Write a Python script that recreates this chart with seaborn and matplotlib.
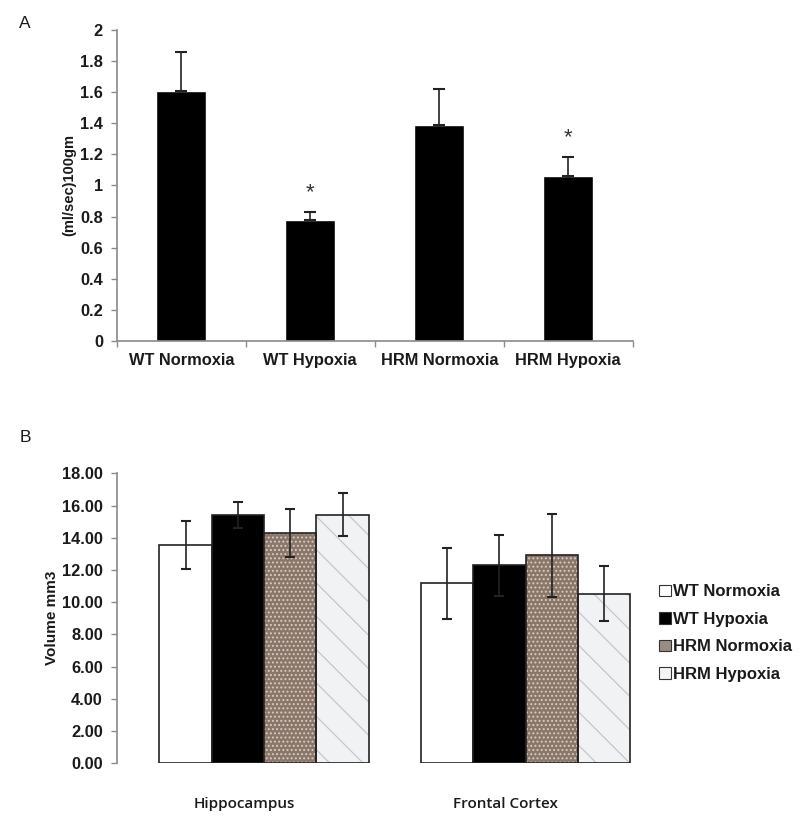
import numpy as np
import pandas as pd
import seaborn as sns
from matplotlib import pyplot as plt
from matplotlib import transforms
from matplotlib.patches import Patch, Rectangle

# panel A: blood flow
groups = ["WT Normoxia", "WT Hypoxia", "HRM Normoxia", "HRM Hypoxia"]
flow_mean = [1.61, 0.78, 1.39, 1.06]
flow_err = [0.25, 0.05, 0.23, 0.12]
flow_sig = [False, True, False, True]

# panel B: volume per region
regions = ["Hippocampus", "Frontal Cortex"]
vol_wt_norm = [13.57, 11.18]
vol_wt_hyp = [15.40, 12.30]
vol_hrm_norm = [14.28, 12.92]
vol_hrm_hyp = [15.42, 10.53]
err_wt_norm = [1.50, 2.20]
err_wt_hyp = [0.80, 1.90]
err_hrm_norm = [1.50, 2.57]
err_hrm_hyp = [1.33, 1.70]

sns.set_style("ticks")
plt.rcParams['font.family'] = ['Liberation Sans', 'DejaVu Sans']
plt.rcParams['hatch.linewidth'] = 0.9

axis_grey = '#8a8a8a'
text_col = '#1a1a1a'

fig = plt.figure(figsize=(8, 8.25), dpi=100)
axA = fig.add_axes([0.146, 0.5867, 0.645, 0.3770])
axB = fig.add_axes([0.146, 0.0748, 0.645, 0.3515])

# ---------------- panel A ----------------
sns.barplot(x=groups, y=flow_mean, color='black', saturation=1, width=0.39,
            errorbar=None, ax=axA)
xs = [p.get_x() + p.get_width() / 2 for p in axA.patches]
axA.errorbar(xs, flow_mean, yerr=[np.zeros(len(flow_err)), flow_err], fmt='none',
             ecolor='#222222', elinewidth=1.2, capsize=4, capthick=1.5)
for x, m, e, s in zip(xs, flow_mean, flow_err, flow_sig):
    if s:
        axA.annotate('*', (x, m + e), xytext=(0, 14), textcoords='offset points',
                     ha='center', va='center', fontsize=16, color='#333333')

axA.set_ylim(0, 2)
axA.set_xlim(-0.5, 3.5)
axA.set_yticks(np.arange(0, 2.01, 0.2))
axA.set_yticklabels(['{:g}'.format(round(v, 1)) for v in np.arange(0, 2.01, 0.2)])
axA.set_xticks(np.arange(-0.5, 3.6, 1.0))
axA.set_xticklabels([])
axA.set_xticks(range(4), minor=True)
axA.set_xticklabels(groups, minor=True)
axA.tick_params(axis='x', which='major', length=4, color=axis_grey, width=1)
axA.tick_params(axis='x', which='minor', length=0, pad=9)
axA.tick_params(axis='y', length=4, color=axis_grey, width=1, pad=6)
for lab in axA.get_xticklabels(minor=True) + axA.get_yticklabels():
    lab.set_fontweight('bold')
    lab.set_fontsize(11.8)
    lab.set_color(text_col)
axA.set_ylabel('(ml/sec)100gm', fontsize=10.5, fontweight='bold', color=text_col, labelpad=3)
sns.despine(ax=axA)
for sp in ['left', 'bottom']:
    axA.spines[sp].set_color(axis_grey)
    axA.spines[sp].set_linewidth(1.2)

# ---------------- panel B ----------------
vol = pd.DataFrame({
    'region': regions * 4,
    'group': np.repeat(groups, 2),
    'volume': vol_wt_norm + vol_wt_hyp + vol_hrm_norm + vol_hrm_hyp,
})
errs = [err_wt_norm, err_wt_hyp, err_hrm_norm, err_hrm_hyp]
means = [vol_wt_norm, vol_wt_hyp, vol_hrm_norm, vol_hrm_hyp]
face = {"WT Normoxia": 'white', "WT Hypoxia": 'black',
        "HRM Normoxia": '#8a776a', "HRM Hypoxia": '#f1f2f4'}
hatches = {"HRM Normoxia": ('....', '#d8cdc1'), "HRM Hypoxia": ('\\', '#c3c8cf')}

sns.barplot(data=vol, x='region', y='volume', hue='group', hue_order=groups,
            palette=face, saturation=1, width=0.8, gap=0, errorbar=None,
            edgecolor='#222222', linewidth=1.2, legend=False, ax=axB)

for g, cont in zip(groups, axB.containers):
    if g in hatches:
        h, hc = hatches[g]
        for bar in cont:
            bar.set_hatch(h)
            bar.set_edgecolor(hc)
            bar.set_linewidth(0)
            axB.add_patch(Rectangle(bar.get_xy(), bar.get_width(), bar.get_height(),
                                    fill=False, edgecolor='#222222', linewidth=1.2, zorder=3))

for cont, m, e in zip(axB.containers, means, errs):
    bx = [b.get_x() + b.get_width() / 2 for b in cont]
    axB.errorbar(bx, m, yerr=e, fmt='none', ecolor='#222222', elinewidth=1.2,
                 capsize=3.5, capthick=1.5, zorder=4)

axB.set_ylim(0, 18)
axB.set_xlim(-0.563, 1.41)
axB.set_yticks(np.arange(0, 18.1, 2))
axB.set_yticklabels(['{:.2f}'.format(v) for v in np.arange(0, 18.1, 2)])
axB.tick_params(axis='y', length=4, color=axis_grey, width=1, pad=6)
axB.tick_params(axis='x', length=0, pad=24)
for lab in axB.get_yticklabels():
    lab.set_fontweight('bold')
    lab.set_fontsize(11.8)
    lab.set_color(text_col)
shift = transforms.ScaledTranslation(-20 / 100, 0, fig.dpi_scale_trans)
for lab in axB.get_xticklabels():
    lab.set_family(['Open Sans', 'DejaVu Sans'])
    lab.set_fontweight('semibold')
    lab.set_fontsize(11)
    lab.set_color(text_col)
    lab.set_transform(lab.get_transform() + shift)
axB.set_xlabel('')
axB.set_ylabel('Volume mm3', fontsize=11, fontweight='bold', color=text_col, labelpad=2)
sns.despine(ax=axB, bottom=True)
axB.spines['left'].set_color(axis_grey)
axB.spines['left'].set_linewidth(1.2)

legend_face = {"WT Normoxia": 'white', "WT Hypoxia": 'black',
               "HRM Normoxia": '#9a8c82', "HRM Hypoxia": '#f4f4f4'}
handles = [Patch(facecolor=legend_face[g], edgecolor='#333333', linewidth=0.8, label=g)
           for g in groups]
leg = fig.legend(handles=handles, loc='upper left', bbox_to_anchor=(0.805, 0.31),
                 frameon=False, handlelength=0.7, handleheight=0.7, handletextpad=0.12,
                 labelspacing=0.75, prop={'weight': 'bold', 'size': 12})
for t in leg.get_texts():
    t.set_color(text_col)

fig.text(0.024, 0.972, 'A', fontsize=12.5, color=text_col, va='center')
fig.text(0.024, 0.47, 'B', fontsize=12.5, color=text_col, va='center')

plt.savefig('out.png', dpi=100)
